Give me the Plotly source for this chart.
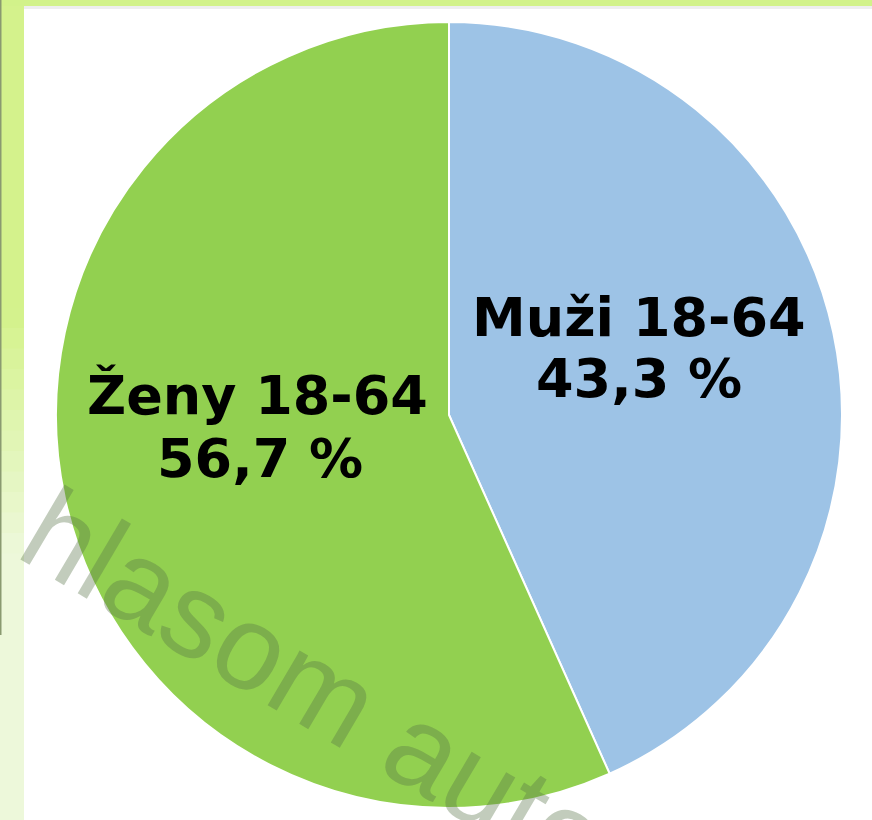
import plotly.graph_objects as go

# ---- data ----
labels = ["Muži 18-64", "Ženy 18-64"]
values = [43.3, 56.7]
watermark = "hlasom autora"

W, H = 872, 820
slice_colors = ["#9DC3E6", "#92D050"]

def px(x):
    return x / W

def py(y):
    return 1 - y / H

# pie geometry (pixels)
cx, cy, r = 449, 415, 393

fig = go.Figure(go.Pie(
    labels=labels,
    values=values,
    sort=False,
    direction="clockwise",
    rotation=0,
    textinfo="none",
    hoverinfo="label+percent",
    marker=dict(colors=slice_colors, line=dict(color="white", width=2)),
    domain=dict(x=[px(cx - r), px(cx + r)], y=[py(cy + r), py(cy - r)]),
    showlegend=False,
))

shapes = []
# left band with vertical gradient (overlapping strips to avoid seams)
n = 40
top_c = (212, 242, 140)
bot_c = (237, 248, 218)
for i in range(n):
    t = i / (n - 1)
    tt = min(1.0, max(0.0, (t - 0.38) / 0.3))
    c = tuple(int(round(top_c[k] + (bot_c[k] - top_c[k]) * tt)) for k in range(3))
    y0 = i * H / n
    y1 = (i + 1) * H / n + 2
    shapes.append(dict(type="rect", xref="paper", yref="paper", x0=0, x1=px(24),
                       y0=py(min(y1, H)), y1=py(y0), fillcolor="rgb(%d,%d,%d)" % c,
                       line_width=0, layer="above"))
# top band + subtle shadow
shapes.append(dict(type="rect", xref="paper", yref="paper", x0=0, x1=1,
                   y0=py(6), y1=1, fillcolor="#D2F28A", line_width=0, layer="above"))
shapes.append(dict(type="rect", xref="paper", yref="paper", x0=px(24), x1=1,
                   y0=py(9), y1=py(6), fillcolor="#EEEEEE", line_width=0, layer="below"))
# thin dark edge on the far left
shapes.append(dict(type="rect", xref="paper", yref="paper", x0=0, x1=px(1.5),
                   y0=py(635), y1=1, fillcolor="#8A9A70", line_width=0, layer="above"))

annotations = []
label_pos = [((639, 317), (639, 378)), ((257, 395), (260, 458))]
for lab, val, (p1, p2) in zip(labels, values, label_pos):
    pct = f"{val:.1f}".replace(".", ",") + " %"
    for txt, (x, y) in ((lab, p1), (pct, p2)):
        annotations.append(dict(
            text=txt, x=px(x), y=py(y), xref="paper", yref="paper",
            xanchor="center", yanchor="middle", showarrow=False,
            font=dict(family="DejaVu Sans", size=54, color="black", weight="bold"),
        ))

annotations.append(dict(
    text=watermark, x=px(362), y=py(712), xref="paper", yref="paper",
    xanchor="center", yanchor="middle", showarrow=False, textangle=30.5,
    font=dict(family="Liberation Sans", size=120, color="rgba(85,115,70,0.36)"),
))

fig.update_layout(
    width=W, height=H,
    margin=dict(l=0, r=0, t=0, b=0),
    paper_bgcolor="white", plot_bgcolor="white",
    shapes=shapes, annotations=annotations,
)

fig.write_html("out.html", config={"displayModeBar": False},
               post_script="document.body.style.margin='0';document.body.style.overflow='hidden';")
